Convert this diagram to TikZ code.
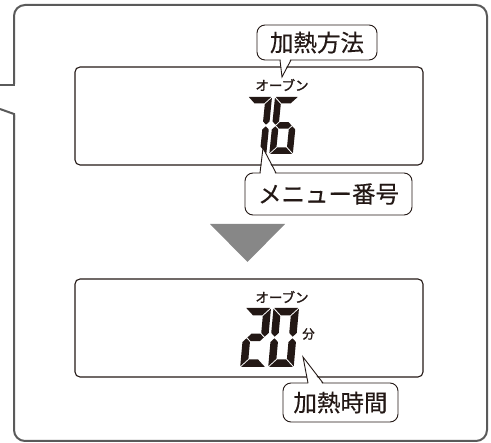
\documentclass[tikz,border=0pt]{standalone}
\usepackage{fontspec}
\setmainfont{Noto Sans CJK JP}
\newfontfamily\jpbold{Noto Sans CJK JP}[FakeBold=1.4]
\newfontfamily\jpmed{Noto Sans CJK JP}[FakeBold=0.4]
\definecolor{framegray}{HTML}{5A5A5A}
\definecolor{arrowgray}{HTML}{878787}
\definecolor{ink}{HTML}{231815}
\newcommand\SegA{\fill[ink] (\sgG,0) -- ({\sgW-\sgG},0) -- ({\sgW-\sgT-\sgG},\sgT) -- ({\sgT+\sgG},\sgT) -- cycle;}
\newcommand\SegD{\fill[ink] (\sgG,\sgH) -- ({\sgW-\sgG},\sgH) -- ({\sgW-\sgT-\sgG},{\sgH-\sgT}) -- ({\sgT+\sgG},{\sgH-\sgT}) -- cycle;}
\newcommand\SegF{\fill[ink] (0,\sgG) -- (\sgT,{\sgT+\sgG}) -- (\sgT,{\sgM-\sgT/2-\sgG}) -- ({\sgT/2},{\sgM-\sgG}) -- (0,{\sgM-\sgT/2-\sgG}) -- cycle;}
\newcommand\SegB{\fill[ink] (\sgW,\sgG) -- ({\sgW-\sgT},{\sgT+\sgG}) -- ({\sgW-\sgT},{\sgM-\sgT/2-\sgG}) -- ({\sgW-\sgT/2},{\sgM-\sgG}) -- (\sgW,{\sgM-\sgT/2-\sgG}) -- cycle;}
\newcommand\SegE{\fill[ink] (0,{\sgH-\sgG}) -- (\sgT,{\sgH-\sgT-\sgG}) -- (\sgT,{\sgM+\sgT/2+\sgG}) -- ({\sgT/2},{\sgM+\sgG}) -- (0,{\sgM+\sgT/2+\sgG}) -- cycle;}
\newcommand\SegC{\fill[ink] (\sgW,{\sgH-\sgG}) -- ({\sgW-\sgT},{\sgH-\sgT-\sgG}) -- ({\sgW-\sgT},{\sgM+\sgT/2+\sgG}) -- ({\sgW-\sgT/2},{\sgM+\sgG}) -- (\sgW,{\sgM+\sgT/2+\sgG}) -- cycle;}
\newcommand\SegG{\fill[ink] ({\sgT/2+\sgG},\sgM) -- ({\sgT+\sgG},{\sgM-\sgT/2}) -- ({\sgW-\sgT-\sgG},{\sgM-\sgT/2}) -- ({\sgW-\sgT/2-\sgG},\sgM) -- ({\sgW-\sgT-\sgG},{\sgM+\sgT/2}) -- ({\sgT+\sgG},{\sgM+\sgT/2}) -- cycle;}
\newcommand\SevenSeg[7]{%
  \begin{scope}[shift={(#1,#2)}, xslant=#6]
    \def\sgW{#3}\def\sgH{#4}\def\sgT{#5}\def\sgG{0.8}\pgfmathsetmacro\sgM{#4/2}
    \foreach \s in {#7}{\csname Seg\s\endcsname}
  \end{scope}}
\begin{document}
\begin{tikzpicture}[x=1pt,y=-1pt,
  frame/.style={draw=framegray, line width=2pt},
  lcd/.style={draw=ink, line width=1.1pt, rounded corners=5pt, inner sep=0pt},
  bubble/.style={draw=ink, line width=0.9pt, fill=white, rounded corners=8pt, inner sep=0pt, text=ink, font=\jpmed\fontsize{23.5}{23.5}\selectfont},
  ptr/.style={draw=ink, line width=0.9pt, line join=miter},
  small/.style={inner sep=0pt, text=ink, font=\jpbold\fontsize{13.5}{13.5}\selectfont}]
\useasboundingbox (0,0) rectangle (491,443);

% outer frame with pointer notch on the left
\draw[frame, rounded corners=11pt] (14,5) rectangle (487,441);
\fill[white] (11,84) rectangle (17,115);
\draw[frame] (0,85) -- (14,85) -- (14,80);
\draw[frame] (0,109) -- (14,114) -- (14,120);

% LCD panels
\node[lcd, minimum width=348pt, minimum height=98pt] (lcd1) at (249,116) {};
\node[lcd, minimum width=348pt, minimum height=98pt] (lcd2) at (249,328) {};

% arrow triangle
\fill[arrowgray] (210,224) -- (285,224) -- (247.5,262) -- cycle;

% top display
\node[small] (oven1) at (282,85) {オーブン};
\SevenSeg{248}{97}{24}{57}{6.5}{0.1}{A,B,C}
\SevenSeg{275}{97}{23.5}{57}{6.5}{0.1}{A,F,G,E,C,D}

% bottom display
\node[small] (oven2) at (282,297) {オーブン};
\SevenSeg{245.5}{308}{25.5}{59}{7.5}{0.09}{A,B,G,E,D}
\SevenSeg{273.5}{308}{25.5}{59}{7.5}{0.09}{A,B,C,D,E,F}
\node[inner sep=0pt, text=ink, font=\jpbold\fontsize{12.5}{12.5}\selectfont] (fun) at (308.5,334) {分};

% callout bubbles
\node[bubble, minimum width=120pt, minimum height=35pt] (b1) at (317,42.5) {加熱方法};
\coordinate (b1l) at (280,60);
\coordinate (b1r) at (291,60);
\coordinate (b1t) at (282,77);
\fill[white] (280.5,58.5) -- (282,76) -- (290.5,58.5) -- cycle;
\draw[ptr] (b1l) -- (b1t) -- (b1r);

\node[bubble, minimum width=167pt, minimum height=42pt] (b2) at (328.5,194) {メニュー番号};
\coordinate (b2l) at (260,173);
\coordinate (b2r) at (276,173);
\coordinate (b2t) at (263,148);
\fill[white] (260.5,174.5) -- (263,149.5) -- (275.5,174.5) -- cycle;
\draw[ptr] (b2l) -- (b2t) -- (b2r);

\node[bubble, minimum width=115pt, minimum height=39pt] (b3) at (340.5,402.5) {加熱時間};
\coordinate (b3l) at (308,383);
\coordinate (b3r) at (323,383);
\coordinate (b3t) at (303,357);
\fill[white] (308.5,384.5) -- (303.5,358.5) -- (322.5,384.5) -- cycle;
\draw[ptr] (b3l) -- (b3t) -- (b3r);
\end{tikzpicture}
\end{document}
